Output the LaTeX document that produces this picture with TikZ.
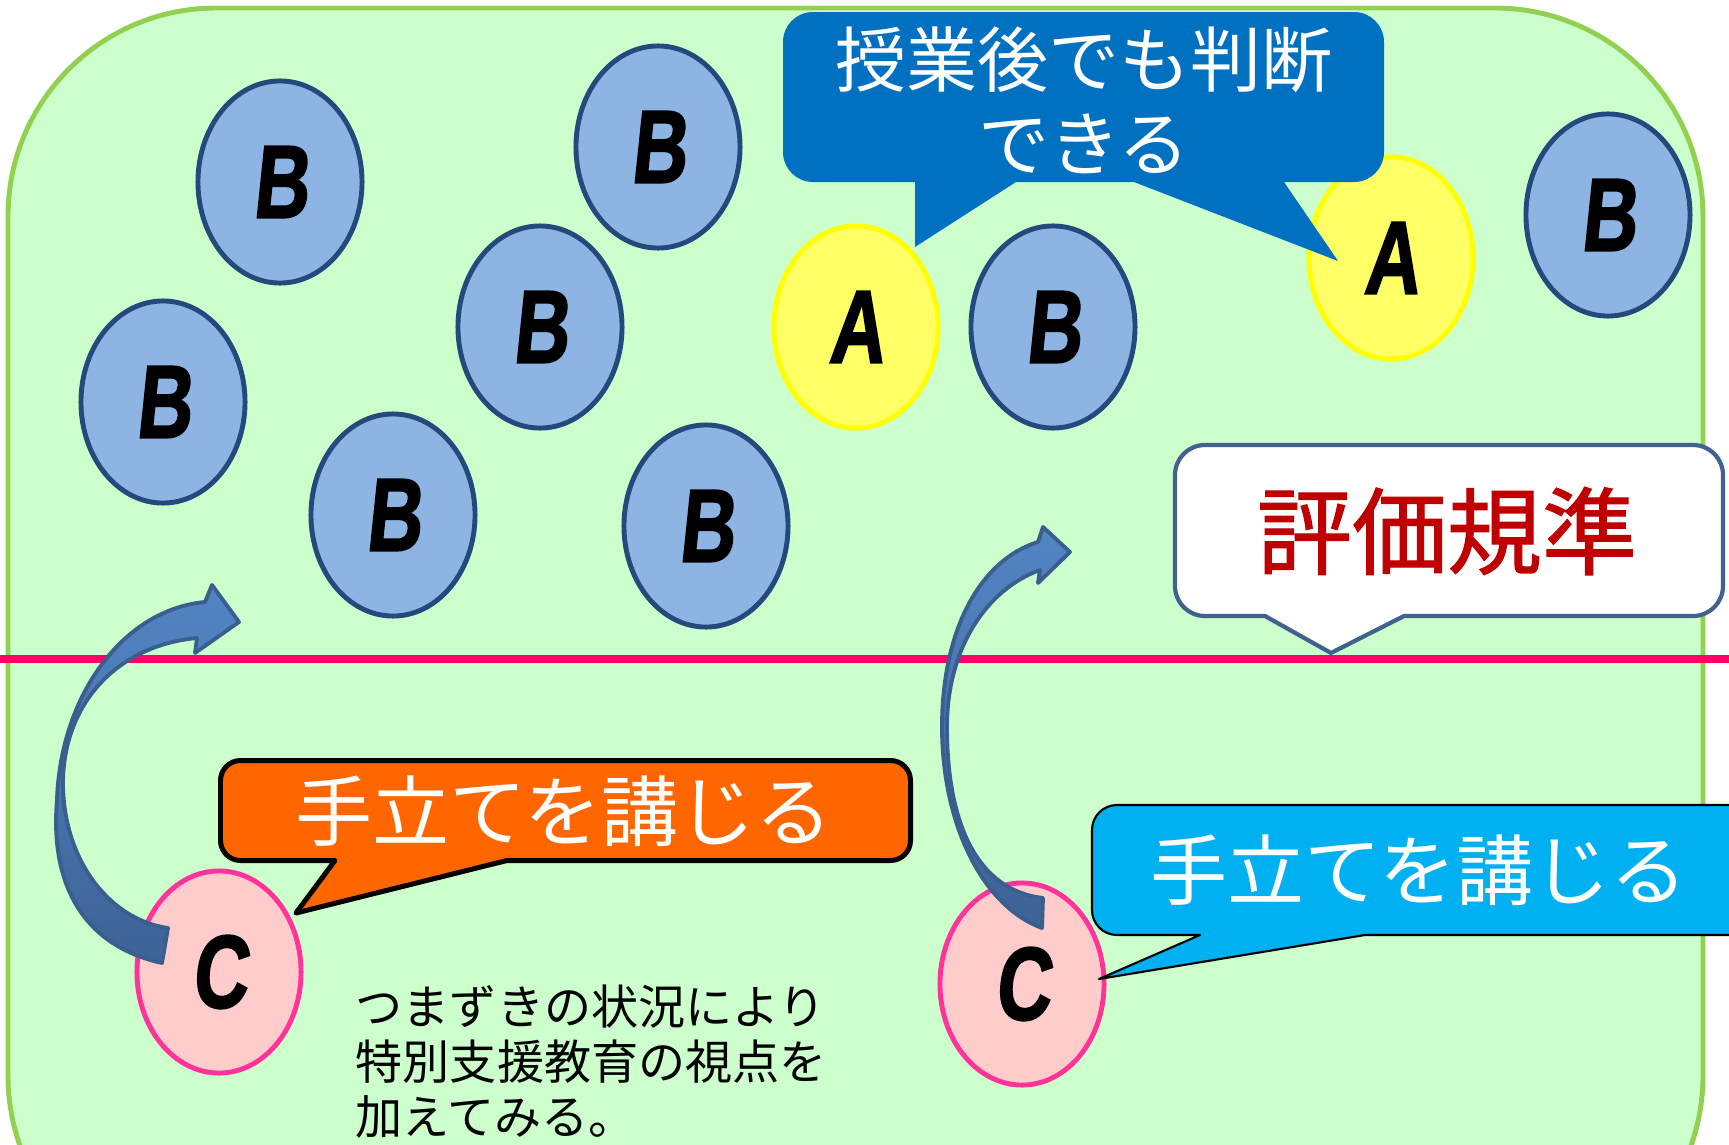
\documentclass[tikz,border=0pt]{standalone}
\usepackage{fontspec}
\usepackage{graphicx}
\usetikzlibrary{shapes.geometric}
\newfontfamily\jp{Noto Sans CJK JP}
\newfontfamily\jpb{Noto Sans CJK JP}[FakeBold=1.2]
\newfontfamily\lett{Liberation Sans}[UprightFont=* Bold, FakeSlant=0.14, FakeBold=2]
\newcommand\Ltr[1]{\scalebox{0.78}[1.05]{#1}}
\definecolor{bgc}{HTML}{CCFFCC}
\definecolor{bgl}{HTML}{92D050}
\definecolor{redl}{HTML}{FF0066}
\definecolor{bfill}{HTML}{8EB4E3}
\definecolor{bline}{HTML}{24497C}
\definecolor{afill}{HTML}{FFFF66}
\definecolor{aline}{HTML}{FFFF00}
\definecolor{cfill}{HTML}{FFCCCC}
\definecolor{cline}{HTML}{FF3399}
\definecolor{callblue}{HTML}{0070C0}
\definecolor{callorange}{HTML}{FF6600}
\definecolor{callcyan}{HTML}{00B0F0}
\definecolor{callwline}{HTML}{41618F}
\definecolor{critred}{HTML}{C00000}
\definecolor{arrtop}{HTML}{5385C4}
\definecolor{arrbot}{HTML}{3D6397}
\definecolor{arrline}{HTML}{3A5E8E}
\begin{document}
\begin{tikzpicture}[x=0.01cm,y=-0.01cm,
  oval/.style={ellipse, inner sep=0pt, minimum width=1.64cm, minimum height=2.02cm,
    line width=1.4pt, font=\lett\fontsize{28}{28}\selectfont},
  bov/.style={oval, draw=bline, fill=bfill},
  aov/.style={oval, draw=aline, fill=afill},
  cov/.style={oval, draw=cline, fill=cfill},
  curvarrow/.style={top color=arrtop, bottom color=arrbot, draw=arrline, line width=1.1pt, line join=round},
  bigjp/.style={text=white, inner sep=0pt, font=\jp\fontsize{21.9pt}{24pt}\selectfont}
]
\useasboundingbox (0,0) rectangle (1729,1145);
% background panel
\draw[fill=bgc, draw=bgl, line width=1.4pt, rounded corners=2.08cm] (8,8) rectangle (1703,1284);
% divider line
\coordinate (divL) at (0,659);
\coordinate (divR) at (1729,659);
\draw[redl, line width=2pt] (divL) -- (divR);

% ovals
\node[bov] (b1) at (280,182) {\Ltr{B}};
\node[bov] (b2) at (658,147) {\Ltr{B}};
\node[bov] (b3) at (163,402) {\Ltr{B}};
\node[bov] (b4) at (540,327) {\Ltr{B}};
\node[bov] (b5) at (393,515) {\Ltr{B}};
\node[bov] (b6) at (706,526) {\Ltr{B}};
\node[bov] (b7) at (1053,327) {\Ltr{B}};
\node[bov] (b8) at (1608,215) {\Ltr{B}};
\node[aov] (a1) at (856,327) {\Ltr{A}};
\node[aov] (a2) at (1391,258) {\Ltr{A}};
\node[cov] (c1) at (219,972) {\Ltr{C}};
\node[cov] (c2) at (1022,984) {\Ltr{C}};

% curved block arrows
\path[curvarrow] (162,963) .. controls (80,945) and (50,880) .. (57,800)
  .. controls (60,700) and (120,610) .. (205,602) -- (212,585) -- (239,622) -- (195,653) -- (197,638)
  .. controls (120,645) and (65,700) .. (63,780) .. controls (62,860) and (110,920) .. (168,928) -- cycle;
\path[curvarrow] (1042,928) .. controls (980,905) and (942,820) .. (942,727)
  .. controls (942,630) and (980,560) .. (1038,542) -- (1043,527) -- (1070,552) -- (1038,583) -- (1040,570)
  .. controls (985,590) and (947,650) .. (947,727) .. controls (947,820) and (975,890) .. (1043,898) -- cycle;

% top callout
\fill[callblue] (783,42) .. controls (783,25.4) and (796.4,12) .. (813,12) -- (1354,12)
  .. controls (1370.6,12) and (1384,25.4) .. (1384,42) -- (1384,152)
  .. controls (1384,168.6) and (1370.6,182) .. (1354,182) -- (1284,182) -- (1338,261) -- (1134,182)
  -- (1016,182) -- (915,247) -- (915,182) -- (813,182) .. controls (796.4,182) and (783,168.6) .. (783,152) -- cycle;
\node[text=white, align=center, inner sep=0pt, font=\jp\fontsize{20.2pt}{23.9pt}\selectfont] (tjudge) at (1084,100) {授業後でも判断\\できる};

% criterion callout
\path[fill=white, draw=callwline, line width=1.2pt, line join=round]
  (1175,475) .. controls (1175,458.4) and (1188.4,445) .. (1205,445) -- (1693,445)
  .. controls (1709.6,445) and (1723,458.4) .. (1723,475) -- (1723,586)
  .. controls (1723,602.6) and (1709.6,616) .. (1693,616) -- (1404,616) -- (1331,653) -- (1265,616)
  -- (1205,616) .. controls (1188.4,616) and (1175,602.6) .. (1175,586) -- cycle;
\node[text=critred, inner sep=0pt, font=\jpb\fontsize{27pt}{30pt}\selectfont] (tcrit) at (1447,531) {評価規準};

% orange callout
\path[fill=callorange, draw=black, line width=1.42pt, line join=round]
  (220.5,780.5) .. controls (220.5,769.5) and (229.5,760.5) .. (240.5,760.5) -- (890.5,760.5)
  .. controls (901.5,760.5) and (910.5,769.5) .. (910.5,780.5) -- (910.5,840.5)
  .. controls (910.5,851.5) and (901.5,860.5) .. (890.5,860.5) -- (507,860.5) -- (296,913) -- (335,860.5)
  -- (240.5,860.5) .. controls (229.5,860.5) and (220.5,851.5) .. (220.5,840.5) -- cycle;
\node[bigjp] (tor) at (564,811) {手立てを講じる};

% cyan callout
\path[fill=callcyan, draw=black, line width=0.6pt, line join=round]
  (1092,830) .. controls (1092,816.2) and (1103.2,805) .. (1117,805) -- (1760,805) -- (1760,935)
  -- (1365,935) -- (1099,979) -- (1200,935) -- (1117,935)
  .. controls (1103.2,935) and (1092,923.8) .. (1092,910) -- cycle;
\node[bigjp] (tcy) at (1419,870) {手立てを講じる};

% note text
\node[anchor=north west, align=left, inner sep=0pt, font=\jp\fontsize{13.4pt}{15.6pt}\selectfont] (tnote) at (355,984)
  {つまずきの状況により\\特別支援教育の視点を\\加えてみる。};
\end{tikzpicture}
\end{document}
